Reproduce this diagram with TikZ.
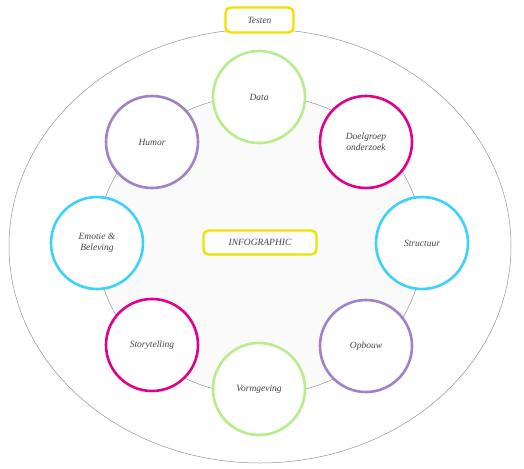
\documentclass[tikz,border=0pt]{standalone}
\usepackage{fontspec}
\setmainfont{Liberation Serif}
\usepackage{xcolor}
\usetikzlibrary{shapes.geometric}

\definecolor{txtgray}{HTML}{444444}
\definecolor{tagyellow}{HTML}{F0E100}
\definecolor{lgreen}{HTML}{B8EC8C}
\definecolor{magenta}{HTML}{E0008A}
\definecolor{skyblue}{HTML}{3CD2FA}
\definecolor{lilac}{HTML}{A082C8}

\begin{document}
\begin{tikzpicture}[
  x=1pt, y=-1pt,
  ring/.style={draw=gray!85, ellipse, inner sep=0pt, line width=0.5pt},
  topic/.style={draw, circle, line width=2.6pt, fill=white, minimum size=92pt, inner sep=0pt, align=center, font=\fontsize{9.5}{11}\selectfont\itshape, text=txtgray},
  tag/.style={draw=tagyellow, rounded corners=5pt, line width=2.4pt, fill=white, inner sep=0pt, font=\fontsize{9.5}{11}\selectfont\itshape, text=txtgray}
]
  \useasboundingbox (0,0) rectangle (524,468);

  % rings
  \node[ring, minimum width=502pt, minimum height=434pt] (outer) at (260,246) {};
  \node[ring, fill=gray!4, minimum width=326pt, minimum height=300pt] (core) at (260,245) {};

  % topics round the core
  \node[topic, draw=lgreen] (data) at (259,97) {Data};
  \node[topic, draw=magenta] (doel) at (366,142) {Doelgroep\\onderzoek};
  \node[topic, draw=skyblue] (struct) at (422,243) {Structuur};
  \node[topic, draw=lilac] (opb) at (366,346) {Opbouw};
  \node[topic, draw=lgreen] (vorm) at (259,389) {Vormgeving};
  \node[topic, draw=magenta] (story) at (152,345) {Storytelling};
  \node[topic, draw=skyblue] (emo) at (97,243) {Emotie \&\\Beleving};
  \node[topic, draw=lilac] (humor) at (152,142) {Humor};

  % labels
  \node[tag, minimum width=68pt, minimum height=25pt] (test) at (259.5,20) {Testen};
  \node[tag, minimum width=113pt, minimum height=24pt] (info) at (260,242.5) {INFOGRAPHIC};
\end{tikzpicture}
\end{document}
